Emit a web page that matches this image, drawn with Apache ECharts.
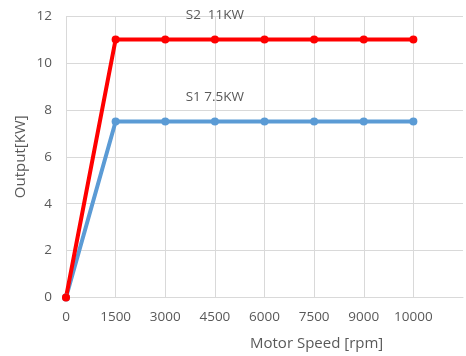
<!DOCTYPE html>
<html>
<head>
<meta charset="utf-8">
<script src="https://cdn.jsdelivr.net/npm/echarts@6/dist/echarts.min.js"></script>
<style>html,body{margin:0;padding:0;background:#fff}#c{width:466px;height:356px}</style>
</head>
<body>
<div id="c"></div>
<script>
var categories = ['0', '1500', '3000', '4500', '6000', '7500', '9000', '10000', ''];
var s1Values = [0, 7.5, 7.5, 7.5, 7.5, 7.5, 7.5, 7.5];
var s2Values = [0, 11, 11, 11, 11, 11, 11, 11];
var s1Name = 'S1 7.5KW';
var s2Name = 'S2  11KW';
var labelIndex = 3;

var FONT = 'Open Sans';
var TXT = '#595959';

function withLabel(vals, text) {
  return vals.map(function (v, i) {
    if (i === labelIndex) {
      return { value: v, label: { show: true, position: 'top', distance: 13, formatter: text,
        color: TXT, fontFamily: FONT, fontSize: 13.5 } };
    }
    return v;
  });
}

var chart = echarts.init(document.getElementById('c'), null, { renderer: 'canvas' });
chart.setOption({
  animation: false,
  backgroundColor: '#fff',
  grid: { left: 66, right: 0, top: 16, bottom: 58.5, containLabel: false },
  xAxis: {
    type: 'category',
    data: categories,
    boundaryGap: false,
    axisLine: { show: true, lineStyle: { color: '#d9d9d9', width: 1 } },
    axisTick: { show: false },
    axisLabel: { interval: 0, hideOverlap: false, color: TXT, fontFamily: FONT, fontSize: 13.5, margin: 13 },
    splitLine: { show: true, interval: function (i) { return i < 8; }, lineStyle: { color: '#d9d9d9', width: 1 } }
  },
  yAxis: {
    type: 'value',
    min: 0, max: 12, interval: 2,
    axisLine: { show: false },
    axisTick: { show: false },
    axisLabel: { color: TXT, fontFamily: FONT, fontSize: 13.5, margin: 14 },
    splitLine: { show: true, lineStyle: { color: '#d9d9d9', width: 1 } },
    name: 'Output[KW]',
    nameLocation: 'middle',
    nameGap: 38,
    nameMoveOverlap: false,
    nameTextStyle: { color: TXT, fontFamily: FONT, fontSize: 15 }
  },
  graphic: [{
    type: 'text',
    left: 250, top: 336,
    style: { text: 'Motor Speed [rpm]', fill: TXT, font: '15px "' + FONT + '"' }
  }],
  series: [
    {
      name: s1Name, type: 'line', data: withLabel(s1Values, s1Name),
      symbol: 'circle', symbolSize: 8,
      lineStyle: { color: '#5B9BD5', width: 4 },
      itemStyle: { color: '#5B9BD5' }
    },
    {
      name: s2Name, type: 'line', data: withLabel(s2Values, s2Name),
      symbol: 'circle', symbolSize: 8,
      lineStyle: { color: '#FF0000', width: 4 },
      itemStyle: { color: '#FF0000' }
    }
  ]
});
</script>
</body>
</html>
